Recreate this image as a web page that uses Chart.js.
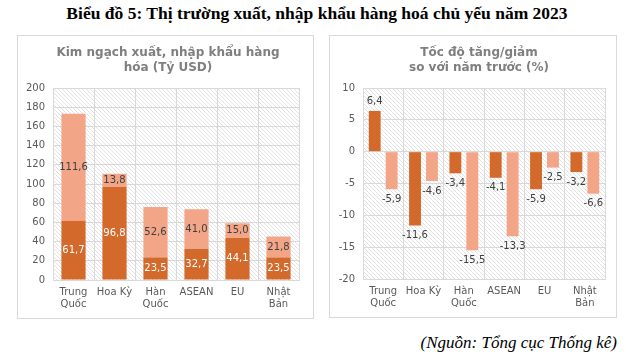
<!DOCTYPE html>
<html>
<head>
<meta charset="utf-8">
<script src="https://cdn.jsdelivr.net/npm/chart.js@4"></script>
<style>
  body { margin: 0; background: #fff; width: 626px; height: 358px; position: relative; overflow: hidden; }
  #title { position: absolute; left: 0; top: 3px; width: 634px; text-align: center;
           font: bold 17.5px "Liberation Serif", serif; color: #000; }
  .panel { position: absolute; border: 1px solid #d9d9d9; background: #fff; }
  #p1 { left: 17px; top: 35px; width: 295px; height: 282px; }
  #p2 { left: 329px; top: 35px; width: 286px; height: 281px; }
  #source { position: absolute; right: 9px; top: 333px;
            font: italic 17px "Liberation Serif", serif; color: #000; }
</style>
</head>
<body>
<div id="title">Biểu đồ 5: Thị trường xuất, nhập khẩu hàng hoá chủ yếu năm 2023</div>
<div class="panel" id="p1"><canvas id="c1" width="295" height="282"></canvas></div>
<div class="panel" id="p2"><canvas id="c2" width="286" height="281"></canvas></div>
<div id="source">(Nguồn: Tổng cục Thống kê)</div>
<script>
// Data
const markets = [["Trung", "Quốc"], "Hoa Kỳ", ["Hàn", "Quốc"], "ASEAN", "EU", ["Nhật", "Bản"]];
const exportValue = [61.7, 96.8, 23.5, 32.7, 44.1, 23.5];
const importValue = [111.6, 13.8, 52.6, 41.0, 15.0, 21.8];
const exportGrowth = [6.4, -11.6, -3.4, -4.1, -5.9, -3.2];
const importGrowth = [-5.9, -4.6, -15.5, -13.3, -2.5, -6.6];

const darkColor = "#d3692a";
const lightColor = "#f2a587";
const tickFont = { family: "DejaVu Sans", size: 10 };

function fmt(v) {
    return v.toFixed(1).replace(".", ",");
}

// diagonal hatching behind the plot area
const hatch = {
    id: "hatch",
    beforeDraw(chart) {
        const a = chart.chartArea;
        const ctx = chart.ctx;
        ctx.save();
        ctx.beginPath();
        ctx.rect(a.left, a.top, a.right - a.left, a.bottom - a.top);
        ctx.clip();
        ctx.strokeStyle = "#e2e2e2";
        ctx.lineWidth = 1;
        const h = a.bottom - a.top;
        for (let x = a.left - h; x < a.right; x += 4) {
            ctx.beginPath();
            ctx.moveTo(x, a.top);
            ctx.lineTo(x + h, a.bottom);
            ctx.stroke();
        }
        ctx.restore();
    }
};

// chart heading drawn at fixed spot
function heading(lines, cx) {
    return {
        id: "heading",
        afterDraw(chart) {
            const ctx = chart.ctx;
            ctx.save();
            ctx.font = "bold 12px 'DejaVu Sans'";
            ctx.fillStyle = "#7f7f7f";
            ctx.textAlign = "center";
            ctx.textBaseline = "middle";
            lines.forEach((t, i) => ctx.fillText(t, cx, 17 + i * 15));
            ctx.restore();
        }
    };
}

// value labels
const stackLabels = {
    id: "stackLabels",
    afterDatasetsDraw(chart) {
        const ctx = chart.ctx;
        ctx.save();
        ctx.font = "10px 'DejaVu Sans'";
        ctx.textAlign = "center";
        ctx.textBaseline = "middle";
        chart.data.datasets.forEach((ds, di) => {
            chart.getDatasetMeta(di).data.forEach((bar, i) => {
                ctx.fillStyle = di === 0 ? "#ffffff" : "#404040";
                ctx.fillText(fmt(ds.data[i]), bar.x, (bar.y + bar.base) / 2);
            });
        });
        ctx.restore();
    }
};

const endLabels = {
    id: "endLabels",
    afterDatasetsDraw(chart) {
        const ctx = chart.ctx;
        ctx.save();
        ctx.font = "10px 'DejaVu Sans'";
        ctx.textAlign = "center";
        ctx.fillStyle = "#404040";
        chart.data.datasets.forEach((ds, di) => {
            chart.getDatasetMeta(di).data.forEach((bar, i) => {
                const v = ds.data[i];
                if (v >= 0) {
                    ctx.textBaseline = "bottom";
                    ctx.fillText(fmt(v), bar.x, bar.y - 5);
                } else {
                    ctx.textBaseline = "top";
                    ctx.fillText(fmt(v), bar.x, bar.y + 5);
                }
            });
        });
        ctx.restore();
    }
};

function scalesFor(min, max, step, yWidth, stacked) {
    return {
        x: {
            stacked: stacked,
            grid: { color: "#d9d9d9", offset: true, drawTicks: false },
            border: { color: "#d9d9d9" },
            ticks: { color: "#595959", font: tickFont, padding: 6, maxRotation: 0, autoSkip: false },
            afterFit(s) { s.height = 38; }
        },
        y: {
            stacked: stacked,
            min: min, max: max,
            grid: { color: "#d9d9d9", drawTicks: false },
            border: { color: "#d9d9d9" },
            ticks: { stepSize: step, color: "#595959", font: tickFont, padding: 8 },
            afterFit(s) { s.width = yWidth; }
        }
    };
}

new Chart(document.getElementById("c1"), {
    type: "bar",
    data: {
        labels: markets,
        datasets: [
            { label: "Xuất khẩu", data: exportValue, backgroundColor: darkColor, barPercentage: 0.59, categoryPercentage: 1 },
            { label: "Nhập khẩu", data: importValue, backgroundColor: lightColor, barPercentage: 0.59, categoryPercentage: 1 }
        ]
    },
    options: {
        responsive: false,
        animation: false,
        layout: { padding: { top: 52, right: 14, left: 0, bottom: 0 } },
        plugins: { legend: { display: false }, tooltip: { enabled: false } },
        scales: scalesFor(0, 200, 20, 35, true)
    },
    plugins: [hatch, stackLabels, heading(["Kim ngạch xuất, nhập khẩu hàng", "hóa (Tỷ USD)"], 150)]
});

new Chart(document.getElementById("c2"), {
    type: "bar",
    data: {
        labels: markets,
        datasets: [
            { label: "Xuất khẩu", data: exportGrowth, backgroundColor: darkColor, barPercentage: 0.7, categoryPercentage: 0.84 },
            { label: "Nhập khẩu", data: importGrowth, backgroundColor: lightColor, barPercentage: 0.7, categoryPercentage: 0.84 }
        ]
    },
    options: {
        responsive: false,
        animation: false,
        layout: { padding: { top: 52, right: 11, left: 0, bottom: 0 } },
        plugins: { legend: { display: false }, tooltip: { enabled: false } },
        scales: scalesFor(-20, 10, 5, 33, false)
    },
    plugins: [hatch, endLabels, heading(["Tốc độ tăng/giảm", "so với năm trước (%)"], 149)]
});
</script>
</body>
</html>
